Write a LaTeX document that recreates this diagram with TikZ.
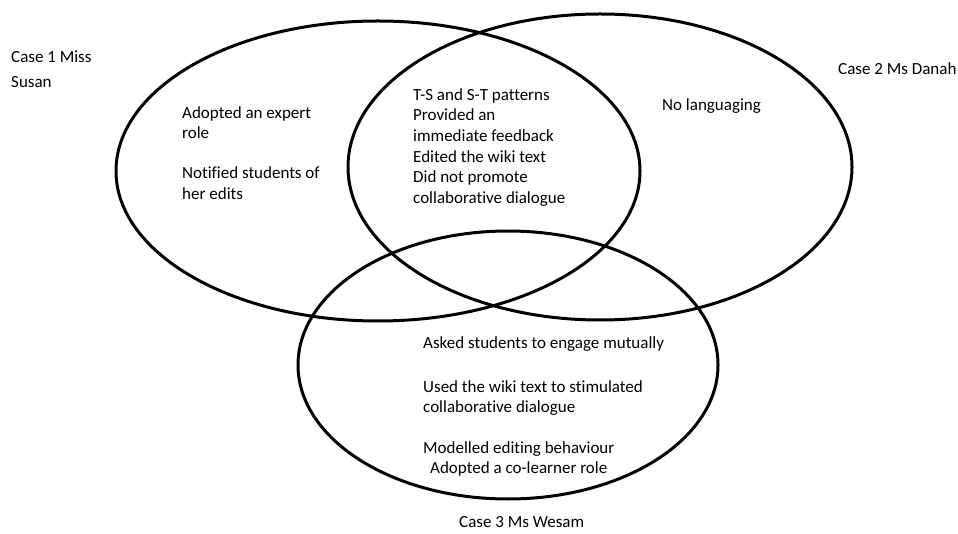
\documentclass[tikz,border=0pt]{standalone}
\usepackage{fontspec}
\setmainfont{Carlito}[Ligatures=NoCommon]
\begin{document}
\begin{tikzpicture}[x=1pt,y=-1pt,
  venn/.style={line width=3pt, draw=black},
  txt/.style={anchor=north west, inner sep=0pt, align=left,
              font=\fontsize{17}{20.7}\selectfont, text=black}]
\useasboundingbox[fill=white] (0,0) rectangle (958,534);

% the three sets
\draw[venn] (378,171) ellipse [x radius=262pt, y radius=150pt];
\draw[venn] (600,167) ellipse [x radius=252pt, y radius=153pt];
\draw[venn] (508,365) ellipse [x radius=210pt, y radius=134pt];

% set titles
\node[txt] (case1) at (11,51) {Case 1 Miss\\[4pt]Susan};
\node[txt] (case2) at (838,63) {Case 2 Ms Danah};
\node[txt] (case3) at (459,516) {Case 3 Ms Wesam};

% Case 1 only
\node[txt] (susan) at (182,106) {Adopted an expert\\role\\[19pt]Notified students of\\her edits};

% shared by Case 1 and Case 2
\node[txt] (shared) at (413,88) {T-S and S-T patterns\\Provided an\\immediate feedback\\Edited the wiki text\\Did not promote\\collaborative dialogue};

% Case 2 only
\node[txt] (danah) at (662,98) {No languaging};

% Case 3 only
\node[txt] (wesam1) at (423,336) {Asked students to engage mutually};
\node[txt] (wesam2) at (423,380) {Used the wiki text to stimulated\\collaborative dialogue};
\node[txt] (wesam3) at (423,441) {Modelled editing behaviour\\\hspace{7pt}Adopted a co-learner role};

\end{tikzpicture}
\end{document}
